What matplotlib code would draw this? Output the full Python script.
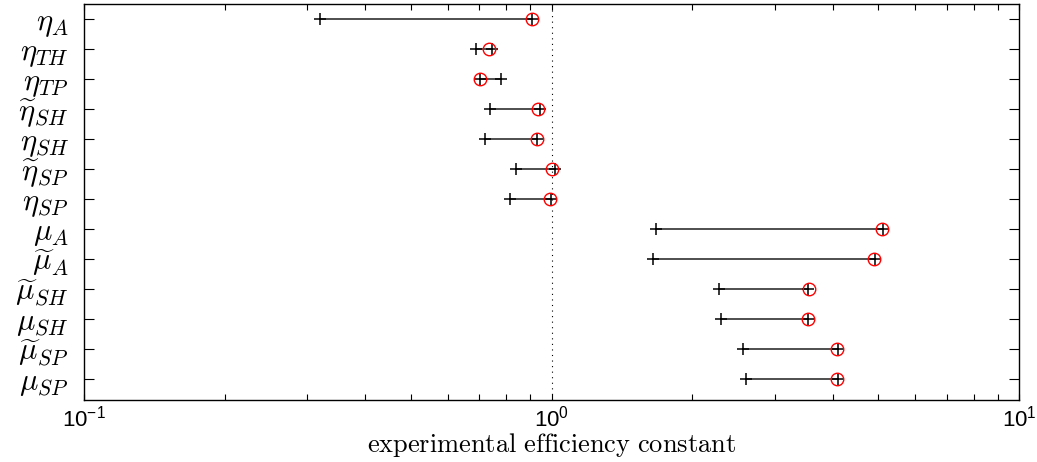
import matplotlib
matplotlib.use("Agg")
import matplotlib.pyplot as plt
from matplotlib.ticker import LogLocator, NullFormatter

plt.rcParams['mathtext.fontset'] = 'cm'
plt.rcParams['font.family'] = ['DejaVu Serif']
# custom math font set used only for the sans-serif x tick labels
plt.rcParams['mathtext.rm'] = 'Liberation Sans'
plt.rcParams['mathtext.it'] = 'Liberation Sans:italic'
plt.rcParams['mathtext.bf'] = 'Liberation Sans:bold'
plt.rcParams['mathtext.sf'] = 'Liberation Sans'

# Row labels, top to bottom
labels = [r'$\eta_A$', r'$\eta_{TH}$', r'$\eta_{TP}$', r'$\widetilde{\eta}_{SH}$',
          r'$\eta_{SH}$', r'$\widetilde{\eta}_{SP}$', r'$\eta_{SP}$',
          r'$\mu_A$', r'$\widetilde{\mu}_A$', r'$\widetilde{\mu}_{SH}$',
          r'$\mu_{SH}$', r'$\widetilde{\mu}_{SP}$', r'$\mu_{SP}$']

# First "+" estimate (start of the segment)
plus_first = [0.320, 0.690, 0.780, 0.738, 0.720, 0.840, 0.815,
              1.670, 1.645, 2.28, 2.30, 2.566, 2.608]
# Second "+" estimate (end of the segment)
plus_second = [0.910, 0.746, 0.703, 0.945, 0.933, 1.017, 0.996,
               5.12, 4.91, 3.54, 3.54, 4.095, 4.095]
# Red circle value
circle_val = [0.907, 0.734, 0.703, 0.934, 0.930, 1.001, 0.993,
              5.09, 4.89, 3.55, 3.54, 4.09, 4.09]

xticks = [0.1, 1, 10]
xticklabels = [r'$\mathrm{10^{-1}}$', r'$\mathrm{10^{0}}$', r'$\mathrm{10^{1}}$']

fig = plt.figure(figsize=(10.37, 4.62), dpi=100)
ax = fig.add_axes([84/1037, 62/462, (1019-84)/1037, (458-62)/462])

n = len(labels)
ypos = list(range(n, 0, -1))

ax.axvline(1.0, color='black', lw=0.8, ls=(0, (1, 4)), zorder=1)

for y, a, b in zip(ypos, plus_first, plus_second):
    ax.plot([a, b], [y, y], color='0.25', lw=1.3, zorder=2, solid_capstyle='butt')
ax.plot(plus_first, ypos, ls='none', marker='+', ms=9, mew=1.1, color='black', zorder=3)
ax.plot(plus_second, ypos, ls='none', marker='+', ms=9, mew=1.1, color='black', zorder=4)
ax.plot(circle_val, ypos, ls='none', marker='o', ms=9, mew=1.0, mfc='none', mec='red', zorder=5)

ax.set_xscale('log')
ax.set_xlim(0.1, 10)
ax.set_ylim(0.3, 13.5)
ax.set_xticks(xticks)
ax.set_xticklabels(xticklabels, fontsize=16)
for t in ax.get_xticklabels():
    t.set_math_fontfamily('custom')
ax.xaxis.set_minor_locator(LogLocator(base=10, subs=range(2, 10)))
ax.xaxis.set_minor_formatter(NullFormatter())
ax.set_yticks(ypos)
ax.set_yticklabels(labels, fontsize=22)

ax.tick_params(axis='x', which='both', direction='in', top=True, bottom=True, pad=4)
ax.tick_params(axis='x', which='major', length=4, width=0.8)
ax.tick_params(axis='x', which='minor', length=4, width=0.8)
ax.tick_params(axis='y', which='major', direction='in', left=True, right=True, length=7, width=0.8, pad=11)
for s in ax.spines.values():
    s.set_linewidth(1.0)

ax.set_xlabel(r'$\mathrm{experimental\ efficiency\ constant}$', fontsize=19, labelpad=0)

fig.savefig('out.png', dpi=100)
